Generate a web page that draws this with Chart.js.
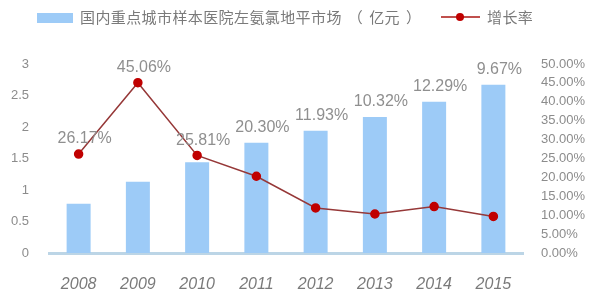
<!DOCTYPE html>
<html><head><meta charset="utf-8">
<script src="https://cdn.jsdelivr.net/npm/chart.js@4"></script>
<style>
html,body{margin:0;padding:0;background:#fff;}
#wrap{position:relative;width:589px;height:303px;overflow:hidden;font-family:"Liberation Sans","Noto Sans CJK SC",sans-serif;}
#c{position:absolute;left:0;top:0;}
.lg{position:absolute;top:9px;height:18px;line-height:18px;font-size:15px;color:#7a7a7a;font-family:"Liberation Sans","Noto Sans CJK SC",sans-serif;white-space:nowrap;letter-spacing:0.4px;}
.p{display:inline-block;margin:0 6px;}
</style></head>
<body>
<div id="wrap">
<canvas id="c" width="589" height="303"></canvas>
<div class="lg" style="left:37px;top:13px;width:36px;height:10px;background:#9DCBF7;"></div>
<div class="lg" style="left:80px;">国内重点城市样本医院左氨氯地平市场<span class="p">（</span>亿元<span class="p">）</span></div>
<div class="lg" style="left:441px;top:16px;width:39px;height:2px;background:#C0504D;"></div>
<div class="lg" style="left:456px;top:13px;width:8px;height:8px;border-radius:50%;background:#C00000;"></div>
<div class="lg" style="left:487px;">增长率</div>
</div>
<script>
const years = ['2008','2009','2010','2011','2012','2013','2014','2015'];
const market = [0.78, 1.13, 1.44, 1.75, 1.94, 2.16, 2.40, 2.67];
const growth = [26.17, 45.06, 25.81, 20.30, 11.93, 10.32, 12.29, 9.67];
const leftTicks = [0, 0.5, 1, 1.5, 2, 2.5, 3];
const rightTicks = [0, 5, 10, 15, 20, 25, 30, 35, 40, 45, 50];

const labelPlugin = {
  id: 'pctLabels',
  afterDatasetsDraw(chart) {
    const ctx = chart.ctx;
    const bars = chart.getDatasetMeta(1).data;
    const pts = chart.getDatasetMeta(0).data;
    ctx.save();
    ctx.font = '16px "Liberation Sans", Arial, sans-serif';
    ctx.fillStyle = '#8f8f8f';
    ctx.textAlign = 'center';
    ctx.textBaseline = 'middle';
    growth.forEach((g, i) => {
      const y = Math.min(bars[i].y, pts[i].y) - 15;
      ctx.fillText(g.toFixed(2) + '%', pts[i].x + 6, y);
    });
    ctx.restore();
  }
};

new Chart(document.getElementById('c'), {
  data: {
    labels: years,
    datasets: [
      {
        type: 'line', label: '增长率', data: growth, yAxisID: 'y2',
        borderColor: '#963838', borderWidth: 1.5,
        pointBackgroundColor: '#C00000', pointBorderColor: '#C00000',
        pointRadius: 4, tension: 0, order: 0
      },
      {
        type: 'bar', label: '国内重点城市样本医院左氨氯地平市场（亿元）', data: market, yAxisID: 'y',
        backgroundColor: '#9DCBF7', barPercentage: 1, categoryPercentage: 0.405, order: 1
      }
    ]
  },
  options: {
    responsive: false, animation: false,
    layout: { padding: { top: 64, left: 0, right: 0, bottom: 0 } },
    plugins: { legend: { display: false }, tooltip: { enabled: false } },
    scales: {
      x: {
        grid: { display: false },
        border: { display: true, color: '#BCD5E6', width: 3 },
        ticks: { color: '#7a7a7a', font: { size: 16, style: 'italic', family: '"Liberation Sans", Arial, sans-serif' }, padding: 14 },
        afterFit(s) { s.height = 50; }
      },
      y: {
        position: 'left', min: 0, max: 3,
        grid: { display: false }, border: { display: false },
        afterBuildTicks(s) { s.ticks = leftTicks.map(v => ({ value: v })); },
        ticks: { color: '#8c8c8c', font: { size: 13, family: '"Liberation Sans", Arial, sans-serif' }, padding: 12, callback: v => String(v) },
        afterFit(s) { s.width = 49; }
      },
      y2: {
        position: 'right', min: 0, max: 50,
        grid: { display: false }, border: { display: false },
        afterBuildTicks(s) { s.ticks = rightTicks.map(v => ({ value: v })); },
        ticks: { color: '#8c8c8c', font: { size: 13, family: '"Liberation Sans", Arial, sans-serif' }, padding: 10, callback: v => v.toFixed(2) + '%' },
        afterFit(s) { s.width = 66; }
      }
    }
  },
  plugins: [labelPlugin]
});
</script>
</body></html>
